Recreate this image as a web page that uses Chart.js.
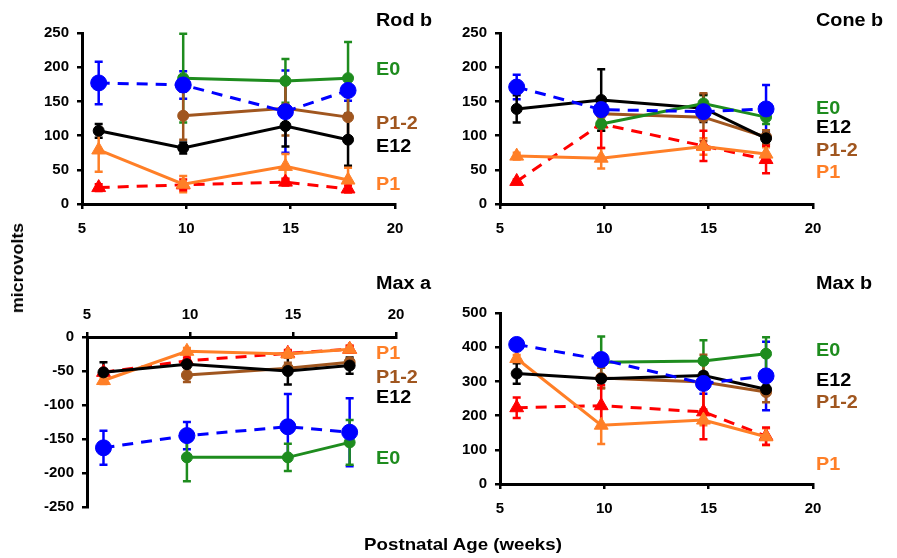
<!DOCTYPE html>
<html>
<head>
<meta charset="utf-8">
<script src="https://cdn.jsdelivr.net/npm/chart.js@4.4.1/dist/chart.umd.min.js"></script>
<style>
  body { margin: 0; background: #fff; width: 897px; height: 558px; position: relative; overflow: hidden;
         font-family: "Liberation Sans", Arial, sans-serif; font-weight: bold; }
  .box { position: absolute; }
  .lbl { position: absolute; font-size: 18px; font-weight: bold; line-height: 18px; white-space: nowrap; }
</style>
</head>
<body>
<div class="box" style="left:0;top:0;width:440px;height:240px"><canvas id="rod"></canvas></div>
<div class="box" style="left:440px;top:0;width:457px;height:240px"><canvas id="cone"></canvas></div>
<div class="box" style="left:0;top:240px;width:440px;height:300px"><canvas id="maxa"></canvas></div>
<div class="box" style="left:440px;top:240px;width:457px;height:300px"><canvas id="maxb"></canvas></div>
<div id="labels"></div>
<script>
// ages (weeks) where each group was recorded
const ages = [5.8, 9.85, 14.75, 17.75];
const xTicks = [5, 10, 15, 20];

// Rod b
const rodBlue = [177, 174, 135, 166];
const rodBlueErr = [31, 20, 60, 15];
const rodE0 = [null, 184, 180, 184];
const rodE0Err = [null, 65, 32, 53];
const rodP12 = [null, 129, 140, 127];
const rodP12Err = [null, 35, 40, 30];
const rodE12 = [107, 82, 114, 94];
const rodE12Err = [10, 8, 30, 38];
const rodP1 = [79, 29, 55, 35];
const rodP1Err = [32, 12, 18, 18];
const rodRed = [24, 28, 32, 22];
const rodRedErr = [5, 8, 5, 5];

// Cone b
const coneBlue = [171, 138, 135, 139];
const coneBlueErr = [18, 8, 8, 35];
const coneE0 = [null, 117, 147, 127];
const coneE0Err = [null, 10, 12, 10];
const coneP12 = [null, 132, 127, 98];
const coneP12Err = [null, 10, 35, 10];
const coneE12 = [139, 152, 140, 96];
const coneE12Err = [20, 45, 20, 8];
const coneP1 = [70, 67, 84, 73];
const coneP1Err = [5, 15, 12, 10];
const coneRed = [33, 117, 85, 65];
const coneRedErr = [3, 35, 22, 20];

// Max a
const maxaBlue = [-163, -145, -132, -140];
const maxaBlueErr = [25, 20, 48, 50];
const maxaE0 = [null, -177, -177, -155];
const maxaE0Err = [null, 35, 20, 33];
const maxaP12 = [null, -56, -46, -37];
const maxaP12Err = [null, 10, 8, 5];
const maxaE12 = [-52, -40, -50, -42];
const maxaE12Err = [15, 5, 20, 12];
const maxaP1 = [-64, -21, -25, -18];
const maxaP1Err = [5, 5, 5, 5];
const maxaRed = [-52, -35, -24, -18];
const maxaRedErr = [5, 5, 5, 5];

// Max b
const maxbBlue = [408, 364, 294, 316];
const maxbBlueErr = [10, 15, 30, 100];
const maxbE0 = [null, 356, 360, 381];
const maxbE0Err = [null, 75, 60, 48];
const maxbP12 = [null, 310, 298, 269];
const maxbP12Err = [null, 30, 80, 30];
const maxbE12 = [323, 308, 317, 277];
const maxbE12Err = [30, 10, 10, 10];
const maxbP1 = [367, 172, 187, 138];
const maxbP1Err = [10, 55, 15, 25];
const maxbRed = [223, 229, 211, 140];
const maxbRedErr = [30, 60, 80, 25];

const GREEN = '#1e8c1e', BLUE = '#0000ff', BROWN = '#a0561f', BLACK = '#000000',
      ORANGE = '#ff7f27', RED = '#ff0000';

function pts(vals) {
    return vals.map((v, i) => ({ x: ages[i], y: v })).filter(p => p.y !== null);
}
function errs(vals, e) {
    return vals.map((v, i) => e[i]).filter((_, i) => vals[i] !== null);
}

function series(vals, e, color, dashed, shape) {
    return {
        data: pts(vals),
        errors: errs(vals, e),
        borderColor: color,
        backgroundColor: color,
        borderWidth: 3,
        borderDash: dashed ? [11, 8] : [],
        pointStyle: shape,
        pointRadius: shape === 'triangle' ? 8 : (dashed ? 8 : 5.5),
        pointBorderWidth: 1,
        tension: 0
    };
}

const errorBars = {
    id: 'errorBars',
    beforeDatasetsDraw(chart) {
        const { ctx, scales: { x, y } } = chart;
        ctx.save();
        chart.data.datasets.forEach(ds => {
            ctx.strokeStyle = ds.borderColor;
            ctx.lineWidth = 2.5;
            ds.data.forEach((p, j) => {
                const e = ds.errors[j];
                if (!e) return;
                const px = x.getPixelForValue(p.x);
                const top = y.getPixelForValue(p.y + e);
                const bot = y.getPixelForValue(p.y - e);
                ctx.beginPath();
                ctx.moveTo(px, top); ctx.lineTo(px, bot);
                ctx.moveTo(px - 4, top); ctx.lineTo(px + 4, top);
                ctx.moveTo(px - 4, bot); ctx.lineTo(px + 4, bot);
                ctx.stroke();
            });
        });
        ctx.restore();
    }
};

function makeChart(id, datasets, yMin, yMax, yStep, box) {
    const tickFont = { family: '"Liberation Sans", Arial, sans-serif', size: 15, weight: 'bold' };
    return new Chart(document.getElementById(id), {
        type: 'line',
        data: { datasets },
        plugins: [errorBars],
        options: {
            responsive: true,
            maintainAspectRatio: false,
            animation: false,
            layout: { padding: { top: box.top, right: box.right, bottom: box.bottom, left: 0 } },
            plugins: { legend: { display: false }, tooltip: { enabled: false } },
            scales: {
                x: {
                    type: 'linear',
                    position: box.xTop ? 'top' : 'bottom',
                    min: 5, max: 20,
                    afterBuildTicks: s => { s.ticks = xTicks.map(v => ({ value: v })); },
                    afterFit: s => { s.height = box.xh; },
                    ticks: { color: BLACK, font: tickFont, padding: box.xTop ? 8 : 11, maxRotation: 0 },
                    grid: { drawOnChartArea: false, drawTicks: true, tickLength: 5, color: BLACK, lineWidth: 2.5 },
                    border: { display: true, color: BLACK, width: 3 }
                },
                y: {
                    min: yMin, max: yMax,
                    ticks: { stepSize: yStep, color: BLACK, font: tickFont, padding: 8 },
                    afterFit: s => { s.width = box.yw; },
                    grid: { drawOnChartArea: false, drawTicks: true, tickLength: 5, color: BLACK, lineWidth: 2.5 },
                    border: { display: true, color: BLACK, width: 3 }
                }
            }
        }
    });
}

makeChart('rod', [
    series(rodBlue, rodBlueErr, BLUE, true, 'circle'),
    series(rodE0, rodE0Err, GREEN, false, 'circle'),
    series(rodP12, rodP12Err, BROWN, false, 'circle'),
    series(rodE12, rodE12Err, BLACK, false, 'circle'),
    series(rodP1, rodP1Err, ORANGE, false, 'triangle'),
    series(rodRed, rodRedErr, RED, true, 'triangle')
], 0, 250, 50, { top: 33, right: 45, bottom: 0, xh: 36, yw: 82 });

makeChart('cone', [
    series(coneBlue, coneBlueErr, BLUE, true, 'circle'),
    series(coneE0, coneE0Err, GREEN, false, 'circle'),
    series(coneE12, coneE12Err, BLACK, false, 'circle'),
    series(coneP12, coneP12Err, BROWN, false, 'circle'),
    series(coneP1, coneP1Err, ORANGE, false, 'triangle'),
    series(coneRed, coneRedErr, RED, true, 'triangle')
], 0, 250, 50, { top: 33, right: 84, bottom: 0, xh: 36, yw: 60 });

makeChart('maxa', [
    series(maxaBlue, maxaBlueErr, BLUE, true, 'circle'),
    series(maxaE0, maxaE0Err, GREEN, false, 'circle'),
    series(maxaE12, maxaE12Err, BLACK, false, 'circle'),
    series(maxaP12, maxaP12Err, BROWN, false, 'circle'),
    series(maxaP1, maxaP1Err, ORANGE, false, 'triangle'),
    series(maxaRed, maxaRedErr, RED, true, 'triangle')
], -250, 0, 50, { top: 60, right: 44, bottom: 33, xh: 37, yw: 87, xTop: true });

makeChart('maxb', [
    series(maxbBlue, maxbBlueErr, BLUE, true, 'circle'),
    series(maxbE0, maxbE0Err, GREEN, false, 'circle'),
    series(maxbE12, maxbE12Err, BLACK, false, 'circle'),
    series(maxbP12, maxbP12Err, BROWN, false, 'circle'),
    series(maxbP1, maxbP1Err, ORANGE, false, 'triangle'),
    series(maxbRed, maxbRedErr, RED, true, 'triangle')
], 0, 500, 100, { top: 73, right: 84, bottom: 20, xh: 36, yw: 60 });

// panel titles and group labels: [text, left, centre y, colour]
const textLabels = [
    ['Rod b', 376, 20, BLACK], ['E0', 376, 69, GREEN], ['P1-2', 376, 123, BROWN],
    ['E12', 376, 146, BLACK], ['P1', 376, 184, ORANGE],
    ['Cone b', 816, 20, BLACK], ['E0', 816, 108, GREEN], ['E12', 816, 127, BLACK],
    ['P1-2', 816, 150, BROWN], ['P1', 816, 172, ORANGE],
    ['Max a', 376, 283, BLACK], ['P1', 376, 353, ORANGE], ['P1-2', 376, 377, BROWN],
    ['E12', 376, 397, BLACK], ['E0', 376, 458, GREEN],
    ['Max b', 816, 283, BLACK], ['E0', 816, 350, GREEN], ['E12', 816, 380, BLACK],
    ['P1-2', 816, 402, BROWN], ['P1', 816, 464, ORANGE]
];
const holder = document.getElementById('labels');
textLabels.forEach(([t, x, y, c]) => {
    const d = document.createElement('div');
    d.className = 'lbl';
    d.textContent = t;
    d.style.left = x + 'px';
    d.style.top = (y - 9) + 'px';
    d.style.color = c;
    d.style.transform = 'scaleX(1.1)';
    d.style.transformOrigin = 'left center';
    holder.appendChild(d);
});
</script>
<div class="lbl" style="left:18px;top:268px;transform:translate(-50%,-50%) rotate(-90deg) scaleX(1.05);font-size:17px;">microvolts</div>
<div class="lbl" style="left:463px;top:545px;transform:translate(-50%,-50%) scaleX(1.1);font-size:17px;">Postnatal Age (weeks)</div>
</body>
</html>
